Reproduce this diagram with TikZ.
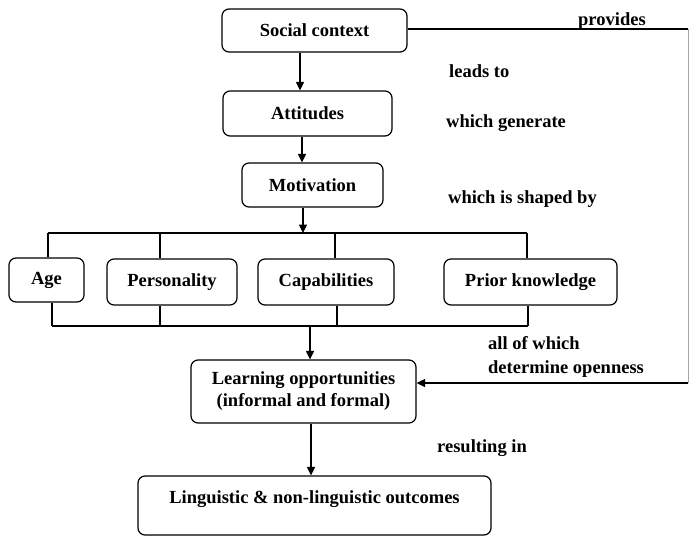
\documentclass[tikz,border=0pt]{standalone}
\usepackage{fontspec}
\setmainfont{Liberation Serif}
\usetikzlibrary{arrows.meta}
\begin{document}
\begin{tikzpicture}[x=1pt,y=-1pt,
  font=\bfseries\fontsize{18.5}{22}\selectfont,
  box/.style={draw, rounded corners=7pt, line width=1.2pt, inner sep=0pt, align=center},
  lbl/.style={inner sep=0pt, anchor=west, align=left},
  ln/.style={line width=1.2pt},
  arr/.style={line width=1.2pt, -{Triangle[length=8.5pt,width=8pt]}}]
\useasboundingbox (0,0) rectangle (689,536);
% boxes
\node[box, minimum width=185pt, minimum height=43pt] (social) at (314.5,30.5) {Social context};
\node[box, minimum width=169pt, minimum height=45pt] (att) at (307.5,113.5) {Attitudes};
\node[box, minimum width=141pt, minimum height=44pt] (mot) at (312.5,185) {Motivation};
\node[box, minimum width=75pt, minimum height=44pt] (age) at (46.5,280) {Age};
\node[box, minimum width=130pt, minimum height=46pt] (pers) at (172,282) {Personality};
\node[box, minimum width=136pt, minimum height=46pt] (cap) at (326,282) {Capabilities};
\node[box, minimum width=173pt, minimum height=46pt] (prior) at (530.5,282) {Prior knowledge};
\node[box, minimum width=225pt, minimum height=63pt] (learn) at (303.5,391.5) {Learning opportunities\\(informal and formal)};
\node[box, minimum width=353pt, minimum height=59pt, text height=13pt, text depth=18pt] (out) at (314.5,505.5) {Linguistic \& non-linguistic outcomes};
% labels
\node[lbl] (lprov) at (578,21) {provides};
\node[lbl] (llead) at (449,71) {leads to};
\node[lbl] (lgen) at (446,123) {which generate};
\node[lbl] (lshape) at (448,199) {which is shaped by};
\node[lbl, anchor=north west] (lopen) at (488,336) {all of which\\[2pt]determine openness};
\node[lbl] (lres) at (437,448) {resulting in};
% helper coordinates
\coordinate (c300) at (300,0);
\coordinate (c302) at (302,0);
\coordinate (c303) at (303,0);
\coordinate (c310) at (310,0);
\coordinate (c311) at (311,0);
\coordinate (tl) at (48,233);
\coordinate (tr) at (527,233);
\coordinate (tm) at (303,233);
\coordinate (bl) at (52,326);
\coordinate (br) at (528,326);
\coordinate (bm) at (310,326);
\coordinate (rt) at (688,29);
\coordinate (rb) at (688,383);
% main chain
\draw[arr] (social.south -| c300) -- (att.north -| c300);
\draw[arr] (att.south -| c302) -- (mot.north -| c302);
\draw[arr] (mot.south -| c303) -- (tm);
% top bracket
\draw[ln] (tl) -- (tr);
\draw[ln] (tl) -- (age.north -| tl);
\draw[ln] (tl -| pers.north) ++(-12,0) coordinate (pt) -- (pers.north -| pt);
\draw[ln] (335,233) coordinate (ct) -- (cap.north -| ct);
\draw[ln] (tr) -- (prior.north -| tr);
% bottom bracket
\draw[ln] (bl) -- (br);
\draw[ln] (age.south -| bl) -- (bl);
\draw[ln] (pers.south -| pt) -- (pt |- bl);
\draw[ln] (cap.south -| 337,0) coordinate (cb) -- (cb |- bl);
\draw[ln] (prior.south -| br) -- (br);
\draw[arr] (bm) -- (learn.north -| bm);
\draw[arr] (learn.south -| c311) -- (out.north -| c311);
% feedback loop
\draw[ln] (social.east |- rt) -- (rt);
\draw[line width=1pt, black!35] (rt) -- (rb);
\draw[arr] (rb) -- (learn.east |- rb);
\end{tikzpicture}
\end{document}
